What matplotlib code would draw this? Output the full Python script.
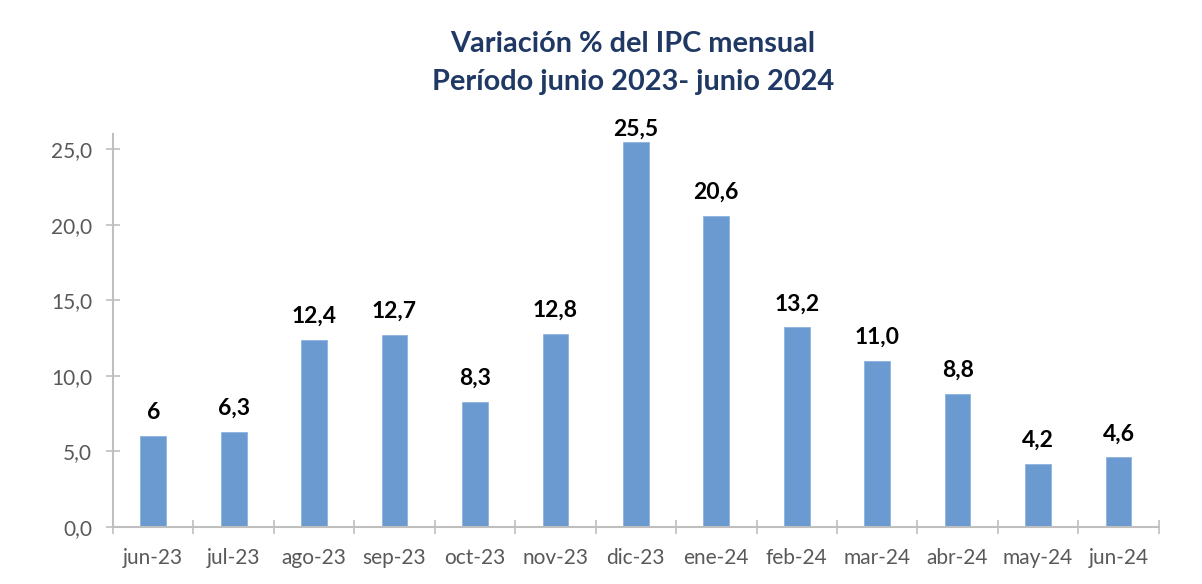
import matplotlib
matplotlib.use("Agg")
import matplotlib.pyplot as plt
import numpy as np

categories = ["jun-23", "jul-23", "ago-23", "sep-23", "oct-23", "nov-23", "dic-23",
              "ene-24", "feb-24", "mar-24", "abr-24", "may-24", "jun-24"]
values = [6.0, 6.3, 12.4, 12.7, 8.3, 12.8, 25.5, 20.6, 13.2, 11.0, 8.8, 4.2, 4.6]
labels = ["6", "6,3", "12,4", "12,7", "8,3", "12,8", "25,5", "20,6", "13,2", "11,0", "8,8", "4,2", "4,6"]
yticks = [0, 5, 10, 15, 20, 25]
title_lines = ["Variación % del IPC mensual", "Período junio 2023- junio 2024"]

font = ["Lato", "DejaVu Sans"]
plt.rcParams['font.family'] = font

fig = plt.figure(figsize=(12.02, 5.84), dpi=100)
ax = fig.add_axes([0.094, 0.0976, 0.870, 0.673])

x = np.arange(len(categories))
ax.bar(x, values, width=0.32, color="#6A9AD0", edgecolor="#8DB3E0", linewidth=0.6, zorder=2)

label_gap = 0.87      # gap above bar in data units
label_cap = 25.63     # labels are kept inside the chart area (as Excel does)
for xi, v, lab in zip(x, values, labels):
    ax.text(xi, min(v + label_gap, label_cap), lab, ha="center", va="bottom",
            fontsize=16.5, fontweight="bold", color="black", clip_on=False)

ax.set_xlim(-0.5, len(categories) - 0.5)
ax.set_ylim(0, 26)
ax.set_yticks(yticks)
ax.set_yticklabels([f"{t:.1f}".replace(".", ",") for t in yticks])
ax.set_xticks(x)
ax.set_xticklabels(categories)
ax.set_xticks(np.arange(len(categories) + 1) - 0.5, minor=True)

spine_c = "#BFBFBF"
for s in ["top", "right"]:
    ax.spines[s].set_visible(False)
for s in ["left", "bottom"]:
    ax.spines[s].set_color(spine_c)
    ax.spines[s].set_linewidth(1.5)

ax.tick_params(axis="y", direction="inout", length=10, width=1.2, color=spine_c,
               labelsize=15, labelcolor="#595959", pad=10)
ax.tick_params(axis="x", which="major", length=0, labelsize=15, labelcolor="#595959", pad=15)
ax.tick_params(axis="x", which="minor", direction="inout", length=10, width=1.2, color=spine_c)

fig.text(0.5266, 1 - 52 / 584, title_lines[0], ha="center", va="baseline", fontsize=20.8,
         fontweight="bold", color="#1F3864")
fig.text(0.5266, 1 - 90 / 584, title_lines[1], ha="center", va="baseline", fontsize=20.8,
         fontweight="bold", color="#1F3864")

fig.savefig("out.png", dpi=100)
